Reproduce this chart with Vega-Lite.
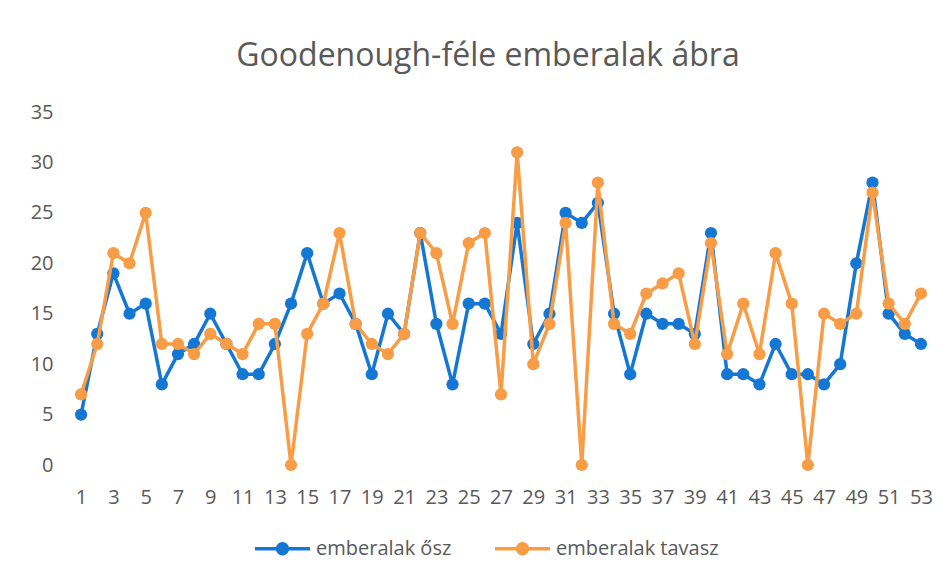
{
  "$schema": "https://vega.github.io/schema/vega-lite/v6.json",
  "autosize": "none",
  "width": 856,
  "height": 353,
  "padding": {"left": 73, "top": 112, "right": 18, "bottom": 115},
  "background": "white",
  "title": {
    "text": "Goodenough-féle emberalak ábra",
    "font": "Open Sans",
    "fontSize": 32,
    "fontWeight": "normal",
    "color": "#595959",
    "anchor": "middle",
    "dx": -13,
    "offset": 29
  },
  "config": {
    "view": {"stroke": null},
    "font": "Open Sans"
  },
  "data": {
    "values": [
      {"n": 1, "emberalak ősz": 5, "emberalak tavasz": 7},
      {"n": 2, "emberalak ősz": 13, "emberalak tavasz": 12},
      {"n": 3, "emberalak ősz": 19, "emberalak tavasz": 21},
      {"n": 4, "emberalak ősz": 15, "emberalak tavasz": 20},
      {"n": 5, "emberalak ősz": 16, "emberalak tavasz": 25},
      {"n": 6, "emberalak ősz": 8, "emberalak tavasz": 12},
      {"n": 7, "emberalak ősz": 11, "emberalak tavasz": 12},
      {"n": 8, "emberalak ősz": 12, "emberalak tavasz": 11},
      {"n": 9, "emberalak ősz": 15, "emberalak tavasz": 13},
      {"n": 10, "emberalak ősz": 12, "emberalak tavasz": 12},
      {"n": 11, "emberalak ősz": 9, "emberalak tavasz": 11},
      {"n": 12, "emberalak ősz": 9, "emberalak tavasz": 14},
      {"n": 13, "emberalak ősz": 12, "emberalak tavasz": 14},
      {"n": 14, "emberalak ősz": 16, "emberalak tavasz": 0},
      {"n": 15, "emberalak ősz": 21, "emberalak tavasz": 13},
      {"n": 16, "emberalak ősz": 16, "emberalak tavasz": 16},
      {"n": 17, "emberalak ősz": 17, "emberalak tavasz": 23},
      {"n": 18, "emberalak ősz": 14, "emberalak tavasz": 14},
      {"n": 19, "emberalak ősz": 9, "emberalak tavasz": 12},
      {"n": 20, "emberalak ősz": 15, "emberalak tavasz": 11},
      {"n": 21, "emberalak ősz": 13, "emberalak tavasz": 13},
      {"n": 22, "emberalak ősz": 23, "emberalak tavasz": 23},
      {"n": 23, "emberalak ősz": 14, "emberalak tavasz": 21},
      {"n": 24, "emberalak ősz": 8, "emberalak tavasz": 14},
      {"n": 25, "emberalak ősz": 16, "emberalak tavasz": 22},
      {"n": 26, "emberalak ősz": 16, "emberalak tavasz": 23},
      {"n": 27, "emberalak ősz": 13, "emberalak tavasz": 7},
      {"n": 28, "emberalak ősz": 24, "emberalak tavasz": 31},
      {"n": 29, "emberalak ősz": 12, "emberalak tavasz": 10},
      {"n": 30, "emberalak ősz": 15, "emberalak tavasz": 14},
      {"n": 31, "emberalak ősz": 25, "emberalak tavasz": 24},
      {"n": 32, "emberalak ősz": 24, "emberalak tavasz": 0},
      {"n": 33, "emberalak ősz": 26, "emberalak tavasz": 28},
      {"n": 34, "emberalak ősz": 15, "emberalak tavasz": 14},
      {"n": 35, "emberalak ősz": 9, "emberalak tavasz": 13},
      {"n": 36, "emberalak ősz": 15, "emberalak tavasz": 17},
      {"n": 37, "emberalak ősz": 14, "emberalak tavasz": 18},
      {"n": 38, "emberalak ősz": 14, "emberalak tavasz": 19},
      {"n": 39, "emberalak ősz": 13, "emberalak tavasz": 12},
      {"n": 40, "emberalak ősz": 23, "emberalak tavasz": 22},
      {"n": 41, "emberalak ősz": 9, "emberalak tavasz": 11},
      {"n": 42, "emberalak ősz": 9, "emberalak tavasz": 16},
      {"n": 43, "emberalak ősz": 8, "emberalak tavasz": 11},
      {"n": 44, "emberalak ősz": 12, "emberalak tavasz": 21},
      {"n": 45, "emberalak ősz": 9, "emberalak tavasz": 16},
      {"n": 46, "emberalak ősz": 9, "emberalak tavasz": 0},
      {"n": 47, "emberalak ősz": 8, "emberalak tavasz": 15},
      {"n": 48, "emberalak ősz": 10, "emberalak tavasz": 14},
      {"n": 49, "emberalak ősz": 20, "emberalak tavasz": 15},
      {"n": 50, "emberalak ősz": 28, "emberalak tavasz": 27},
      {"n": 51, "emberalak ősz": 15, "emberalak tavasz": 16},
      {"n": 52, "emberalak ősz": 13, "emberalak tavasz": 14},
      {"n": 53, "emberalak ősz": 12, "emberalak tavasz": 17}
    ]
  },
  "transform": [
    {"fold": ["emberalak ősz", "emberalak tavasz"], "as": ["sorozat", "ertek"]}
  ],
  "encoding": {
    "x": {
      "field": "n",
      "type": "quantitative",
      "scale": {"domain": [0.5, 53.5], "nice": false, "zero": false},
      "axis": {
        "title": null,
        "values": [1,3,5,7,9,11,13,15,17,19,21,23,25,27,29,31,33,35,37,39,41,43,45,47,49,51,53],
        "grid": false,
        "domain": false,
        "ticks": false,
        "labelPadding": 22,
        "labelFontSize": 20,
        "labelColor": "#595959",
        "labelFont": "Open Sans",
        "labelFontWeight": "normal"
      }
    },
    "y": {
      "field": "ertek",
      "type": "quantitative",
      "scale": {"domain": [0, 35], "nice": false},
      "axis": {
        "title": null,
        "values": [0,5,10,15,20,25,30,35],
        "grid": false,
        "domain": false,
        "ticks": false,
        "labelPadding": 20,
        "labelFontSize": 20,
        "labelColor": "#595959",
        "labelFont": "Open Sans"
      }
    },
    "color": {
      "field": "sorozat",
      "type": "nominal",
      "scale": {
        "domain": ["emberalak ősz", "emberalak tavasz"],
        "range": ["#1477D4", "#F89C45"]
      },
      "legend": {
        "title": null,
        "orient": "none",
        "legendX": 180,
        "legendY": 407,
        "direction": "horizontal",
        "labelFontSize": 20,
        "labelLimit": 400,
        "labelColor": "#595959",
        "labelFont": "Open Sans",
        "labelOffset": 4,
        "columnPadding": 36,
        "symbolType": "M -1 0 L 1 0 M 0.18 0 A 0.18 0.18 0 1 1 -0.18 0 A 0.18 0.18 0 1 1 0.18 0 Z",
        "symbolSize": 3025,
        "symbolStrokeWidth": 3.5,
        "encode": {
          "symbols": {
            "update": {
              "fill": {"scale": "color", "field": "value"},
              "stroke": {"scale": "color", "field": "value"},
              "opacity": {"value": 1}
            }
          }
        }
      }
    }
  },
  "layer": [
    {
      "transform": [{"filter": "datum.sorozat === 'emberalak ősz'"}],
      "mark": {"type": "line", "strokeWidth": 3.5},
      "encoding": {}
    },
    {
      "transform": [{"filter": "datum.sorozat === 'emberalak ősz'"}],
      "mark": {"type": "point", "shape": "circle", "filled": true, "opacity": 1, "size": 150},
      "encoding": {}
    },
    {
      "transform": [{"filter": "datum.sorozat === 'emberalak tavasz'"}],
      "mark": {"type": "line", "strokeWidth": 3.5},
      "encoding": {}
    },
    {
      "transform": [{"filter": "datum.sorozat === 'emberalak tavasz'"}],
      "mark": {"type": "point", "shape": "circle", "filled": true, "opacity": 1, "size": 150},
      "encoding": {}
    }
  ]
}
